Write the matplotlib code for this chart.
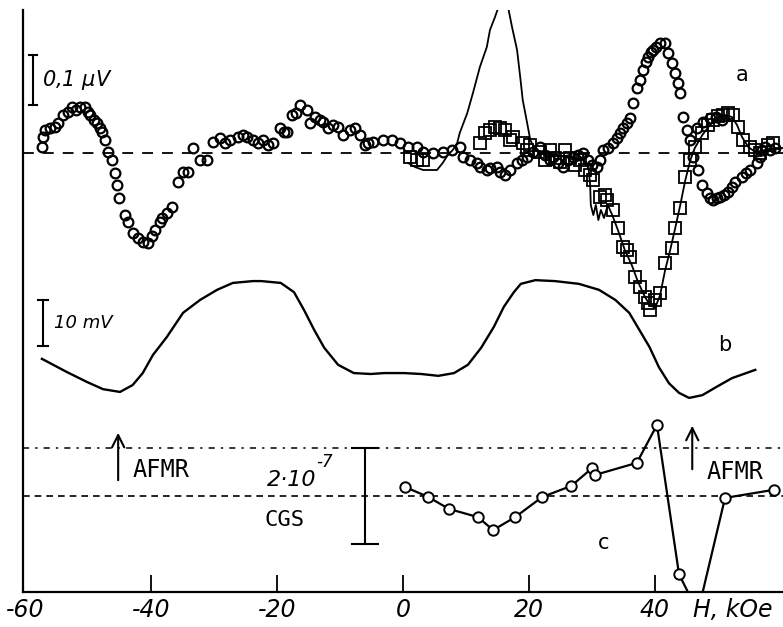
import numpy as np
import matplotlib
matplotlib.use("Agg")
import matplotlib.pyplot as plt

# ---------------- data (H in kOe) ----------------
# panel a: circles (signal, microvolt)
circ_H = [-57.3,-57.1,-56.8,-56.0,-55.2,-54.8,-54.0,-53.2,-52.5,-51.9,-51.3,-50.5,-50.0,-49.7,-49.0,-48.6,-48.1,-47.8,-47.3,-46.8,
          -46.2,-45.7,-45.4,-45.0,-44.1,-43.7,-42.9,-42.1,-41.3,-40.5,-39.8,-39.4,-38.6,-38.3,-37.5,-36.7,-35.7,-34.9,-34.1,-33.3,
          -32.2,-31.1,-30.2,-29.0,-28.3,-27.5,-26.2,-25.4,-24.8,-23.8,-23.0,-22.2,-21.4,-20.6,-19.5,-18.9,-18.4,-17.6,-17.0,-16.3,
          -15.2,-14.8,-14.0,-13.2,-12.7,-11.9,-11.1,-10.3,-9.5,-8.4,-7.6,-6.8,-6.0,-5.6,-4.8,-3.2,-1.7,-0.5,0.8,2.2,
          3.2,4.8,6.3,7.8,9.0,9.5,10.6,11.7,12.2,13.3,13.8,14.9,15.4,16.2,17.0,18.1,18.9,19.7,20.6,21.7,
          22.5,23.3,23.8,24.6,25.4,26.2,27.0,27.8,28.6,29.4,30.0,30.8,31.3,31.7,32.5,33.3,34.0,34.4,34.9,35.6,
          36.0,36.5,37.1,37.6,38.1,38.6,38.9,39.4,39.7,40.2,40.8,41.6,42.1,42.7,43.2,43.7,44.0,44.4,45.1,45.6,
          46.0,46.8,47.5,48.3,48.7,49.2,49.8,50.3,51.0,51.6,52.2,52.7,53.8,54.4,55.1,56.2,56.7,57.0,57.5,58.3,
          59.0,46.7,47.6,48.7,49.7,50.6]
circ_V = [0.012,0.032,0.046,0.050,0.052,0.060,0.076,0.082,0.092,0.086,0.092,0.092,0.082,0.076,0.066,0.060,0.050,0.042,0.026,0.002,
          -0.014,-0.040,-0.064,-0.090,-0.124,-0.138,-0.160,-0.170,-0.178,-0.180,-0.166,-0.154,-0.138,-0.130,-0.120,-0.108,-0.058,-0.038,-0.038,0.010,
          -0.014,-0.014,0.022,0.030,0.020,0.026,0.032,0.036,0.032,0.026,0.020,0.026,0.016,0.020,0.050,0.042,0.042,0.076,0.080,0.096,
          0.086,0.060,0.072,0.066,0.062,0.050,0.056,0.052,0.036,0.046,0.050,0.036,0.016,0.020,0.022,0.026,0.026,0.020,0.012,0.012,
          0.002,0.000,0.002,0.006,0.012,-0.008,-0.014,-0.020,-0.028,-0.034,-0.030,-0.028,-0.038,-0.044,-0.034,-0.020,-0.014,-0.008,0.002,0.012,
          -0.004,-0.014,-0.008,-0.020,-0.028,-0.014,-0.008,-0.004,0.000,-0.014,-0.024,-0.028,-0.014,0.006,0.010,0.020,0.030,0.040,0.050,0.060,
          0.070,0.100,0.130,0.146,0.166,0.182,0.192,0.202,0.206,0.212,0.220,0.220,0.200,0.180,0.160,0.140,0.120,0.072,0.046,0.026,
          -0.008,-0.034,-0.064,-0.080,-0.090,-0.094,-0.090,-0.088,-0.084,-0.078,-0.068,-0.058,-0.048,-0.040,-0.034,-0.020,-0.008,0.006,0.012,0.006,
          0.010,0.050,0.062,0.070,0.072,0.066]

# panel a: squares (microvolt)
sq_H = [1.1,2.2,3.2,12.2,13.0,13.8,14.6,15.4,16.2,17.0,17.5,19.0,19.7,20.2,21.7,22.5,23.3,24.1,24.9,25.7,
        26.5,27.3,28.1,28.9,29.7,30.2,31.3,32.1,32.4,33.3,34.1,34.9,35.6,36.0,36.8,37.6,38.4,38.9,39.2,40.0,
        40.8,41.6,42.7,43.2,44.0,44.8,45.6,46.3,47.5,48.4,49.2,50.0,50.8,51.6,52.4,53.2,54.0,55.1,55.9,56.7,
        57.9,58.7]
sq_V = [-0.008,-0.014,-0.014,0.020,0.040,0.046,0.052,0.050,0.046,0.026,0.032,0.020,0.006,0.016,0.002,-0.014,0.006,-0.010,-0.018,0.006,
        -0.010,-0.024,-0.014,-0.034,-0.044,-0.054,-0.088,-0.084,-0.094,-0.114,-0.150,-0.188,-0.194,-0.208,-0.248,-0.268,-0.288,-0.300,-0.314,-0.294,
        -0.280,-0.220,-0.190,-0.150,-0.110,-0.048,-0.014,0.012,0.040,0.056,0.066,0.074,0.076,0.080,0.076,0.052,0.026,0.012,0.006,0.000,
        0.016,0.020]

# panel a: continuous trace (microvolt)
line_H = [0.8,1.9,3.2,4.3,5.4,6.3,7.1,7.9,8.6,9.0,10.2,11.1,12.2,13.3,13.8,14.6,15.1,15.9,16.7,17.3,
          18.1,18.6,19.0,19.7,20.2,21.0,22.5,24.1,25.7,27.3,28.6,29.4,29.7,29.8,30.2,30.6,31.0,31.4,31.9,32.5,
          33.2,34.1,35.2,36.3,37.3,38.4,39.2,40.0,40.8,41.6,42.4,43.2,44.0,44.8,45.6,46.3,47.5,48.7,50.0,51.1,
          52.2,53.0,53.8,54.8,55.9,57.5,59.0,60.3]
line_V = [-0.020,-0.028,-0.034,-0.034,-0.034,-0.020,-0.004,0.006,0.020,0.040,0.080,0.120,0.172,0.212,0.246,0.272,0.290,0.340,0.290,0.252,
          0.206,0.152,0.106,0.060,0.026,0.006,0.002,-0.004,-0.008,-0.010,-0.014,-0.024,-0.064,-0.104,-0.124,-0.104,-0.134,-0.114,-0.130,-0.104,
          -0.124,-0.154,-0.194,-0.224,-0.258,-0.288,-0.304,-0.310,-0.284,-0.234,-0.194,-0.150,-0.104,-0.054,-0.014,0.010,0.036,0.056,0.070,0.076,
          0.072,0.056,0.032,0.012,0.002,0.006,0.010,0.010]

# panel b (mV, relative)
b_H = [-57.3,-53.3,-50.2,-47.6,-44.9,-42.9,-41.3,-39.7,-37.5,-34.9,-32.2,-29.5,-27.0,-23.8,-22.5,-19.4,-17.3,-15.7,-14.1,-12.5,
       -10.3,-7.8,-5.1,-3.0,0.2,2.9,5.6,8.1,10.3,12.4,14.4,16.0,17.6,18.7,21.0,24.1,27.9,31.1,33.7,35.9,
       37.5,39.1,40.6,42.2,43.8,45.4,47.5,49.5,52.2,55.9]
b_V = [3.3,0.4,-1.7,-3.3,-3.9,-2.4,0.2,4.1,8.0,13.3,16.1,18.3,19.8,20.2,20.2,19.8,17.8,13.9,9.6,5.7,
       2.0,0.2,0.0,0.2,0.2,0.0,-0.4,0.2,2.0,5.7,10.2,14.6,17.8,19.6,20.4,20.2,19.6,18.3,16.1,13.3,
       9.6,5.9,1.5,-2.0,-4.1,-5.2,-4.6,-3.0,-0.9,0.9]

# panel c (units of 1e-7 CGS)
c_H = [0.3,4.0,7.3,11.9,14.3,17.8,22.1,26.7,30.0,30.5,37.1,40.3,43.8,46.8,51.1,58.9]
c_V = [0.19,-0.02,-0.27,-0.44,-0.71,-0.44,-0.02,0.21,0.58,0.44,0.69,1.48,-1.63,-2.42,-0.04,0.13]

xticks = [-60, -40, -20, 0, 20, 40]
xticklabels = ["-60", "-40", "-20", "0", "20", "40"]
afmr_H = [-45.2, 45.9]

# ---------------- layout ----------------
A0, AS = 439, 500.0    # panel a offset / px per microvolt
B0, BS = 218, 4.6      # panel b offset / px per mV
C0, CS = 96, 48.0      # panel c offset / px per 1e-7

fig = plt.figure(figsize=(7.83, 6.27), dpi=100)
ax = fig.add_axes([23/783, 35/627, 760/783, 582/627])
ax.set_xlim(-60.3, 60.3)
ax.set_ylim(0, 582)

# panel a
ax.axhline(A0, color="k", lw=1.3, ls=(0, (6, 5)))
ax.plot(line_H, A0 + AS*np.array(line_V), color="k", lw=1.3)
ax.plot(sq_H, A0 + AS*np.array(sq_V), ls="none", marker="s", ms=8.5, mfc="none", mec="k", mew=1.3)
ax.plot(circ_H, A0 + AS*np.array(circ_V), ls="none", marker="o", ms=7, mfc="none", mec="k", mew=1.6)

# panel b
ax.plot(b_H, B0 + BS*np.array(b_V), color="k", lw=1.7)

# panel c
ax.axhline(C0 + CS*1.0, color="k", lw=1.1, ls=(0, (4, 4, 1.5, 4)))
ax.axhline(C0, color="k", lw=1.2, ls=(0, (4, 3)))
ax.plot(c_H, C0 + CS*np.array(c_V), color="k", lw=1.6, marker="o", ms=7.5, mfc="white", mec="k", mew=1.4)

# scale bars
def sbar(x, y1, y2, cap):
    ax.plot([x, x], [y1, y2], color="k", lw=1.5)
    ax.plot([x-cap, x+cap], [y1, y1], color="k", lw=1.5)
    ax.plot([x-cap, x+cap], [y2, y2], color="k", lw=1.5)

sbar(-58.7, A0 + AS*0.096, A0 + AS*0.196, 0.7)
sbar(-57.1, B0 + BS*6.1, B0 + BS*16.1, 0.8)
sbar(-6.0, C0 - CS*1.0, C0 + CS*1.0, 2.1)

ax.text(-57.3, A0 + AS*0.146, "0,1 $\\mu$V", fontsize=15, fontstyle="italic", ha="left", va="center")
ax.text(53.8, 517, "a", fontsize=15, ha="center", va="center")
ax.text(-55.4, B0 + BS*11.1, "10 mV", fontsize=13, fontstyle="italic", ha="left", va="center")
ax.text(51.0, 247, "b", fontsize=15, ha="center", va="center")
ax.text(31.9, 49, "c", fontsize=15, ha="center", va="center")
ax.text(-21.6, 112, "2\u00b710", fontsize=16, fontstyle="italic", ha="left", va="center")
ax.text(-13.8, 130, "-7", fontsize=12, fontstyle="italic", ha="left", va="center")
ax.text(-22.0, 72, "CGS", fontsize=16, family="DejaVu Sans Mono", ha="left", va="center")

# AFMR arrows
for h, y0, y1, ty in [(afmr_H[0], 109, 162, 122), (afmr_H[1], 120, 169, 120)]:
    ax.annotate("", xy=(h, y1), xytext=(h, y0),
                arrowprops=dict(arrowstyle="->", lw=1.5, color="k", mutation_scale=22))
    ax.text(h + 2.3, ty, "AFMR", fontsize=17, family="DejaVu Sans Mono", ha="left", va="center")

# axes styling
for s in ["top", "right"]:
    ax.spines[s].set_visible(False)
ax.spines["left"].set_linewidth(1.6)
ax.spines["bottom"].set_linewidth(1.6)
ax.set_yticks([])
ax.set_xticks(xticks)
ax.set_xticklabels(xticklabels, fontsize=17, fontstyle="italic")
ax.tick_params(axis="x", direction="in", length=12, width=1.3, pad=4)
ax.xaxis.get_major_ticks()[0].tick1line.set_visible(False)
ax.text(52.3, -18, "H, kOe", fontsize=17, fontstyle="italic", ha="center", va="center", clip_on=False)

fig.savefig("out.png", dpi=100)
